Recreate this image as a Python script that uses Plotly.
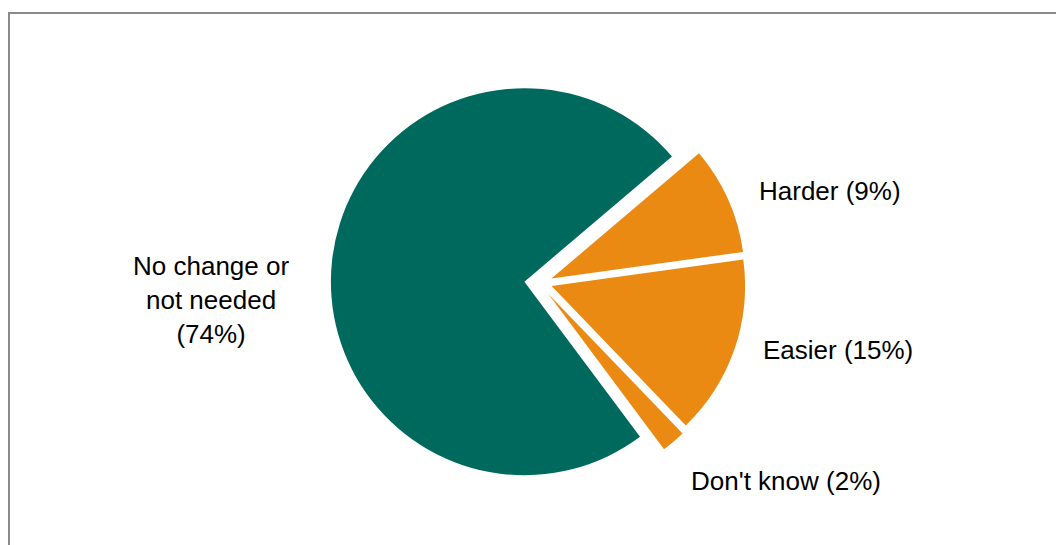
import plotly.graph_objects as go

# ---- data ----
categories = ["Harder", "Easier", "Don't know", "No change or not needed"]
values = [9, 15, 2, 74]
display_labels = ["Harder (9%)", "Easier (15%)", "Don't know (2%)", "No change or<br>not needed<br>(74%)"]
slice_colors = ["#EB8A13", "#EB8A13", "#EB8A13", "#00695D"]

# ---- layout constants (pixels) ----
W, H = 1056, 545
CX, CY, R = 524.4, 281.7, 193.5          # pie centre / radius
# per-slice explosion offsets (dx, dy in screen px)
offsets = [(27, -3.2), (27.2, 4.3), (24, 12.3), (0, 0)]
# label centres (screen px)
label_pos = [(830, 191), (838, 350), (786, 481), (211, 300)]

fig = go.Figure()
for i, cat in enumerate(categories):
    dx, dy = offsets[i]
    cols = [slice_colors[j] if j == i else "rgba(0,0,0,0)" for j in range(len(values))]
    x0 = (CX + dx - R) / W
    x1 = (CX + dx + R) / W
    yc = (H - (CY + dy))
    y0 = (yc - R) / H
    y1 = (yc + R) / H
    fig.add_trace(go.Pie(
        labels=categories, values=values, sort=False,
        direction="clockwise", rotation=49.7,
        marker=dict(colors=cols, line=dict(width=0)),
        textinfo="none", showlegend=False,
        hoverinfo="label+percent" if True else "skip",
        domain=dict(x=[x0, x1], y=[y0, y1]),
    ))

for i, txt in enumerate(display_labels):
    lx, ly = label_pos[i]
    fig.add_annotation(
        x=lx / W, y=1 - ly / H, xref="paper", yref="paper",
        text=txt, showarrow=False, xanchor="center", yanchor="middle",
        font=dict(family="Liberation Sans, Arial", size=26, color="#000000"),
        align="center",
    )

# outer chart border (extends beyond the bottom/right edges)
fig.add_shape(type="rect", xref="paper", yref="paper",
              x0=9 / W, x1=1.2, y0=-0.2, y1=1 - 13 / H,
              line=dict(color="#8a8a8a", width=2), fillcolor="rgba(0,0,0,0)")

fig.update_layout(
    width=W, height=H,
    margin=dict(l=0, r=0, t=0, b=0),
    paper_bgcolor="white", plot_bgcolor="white",
)

fig.write_html("out.html")
